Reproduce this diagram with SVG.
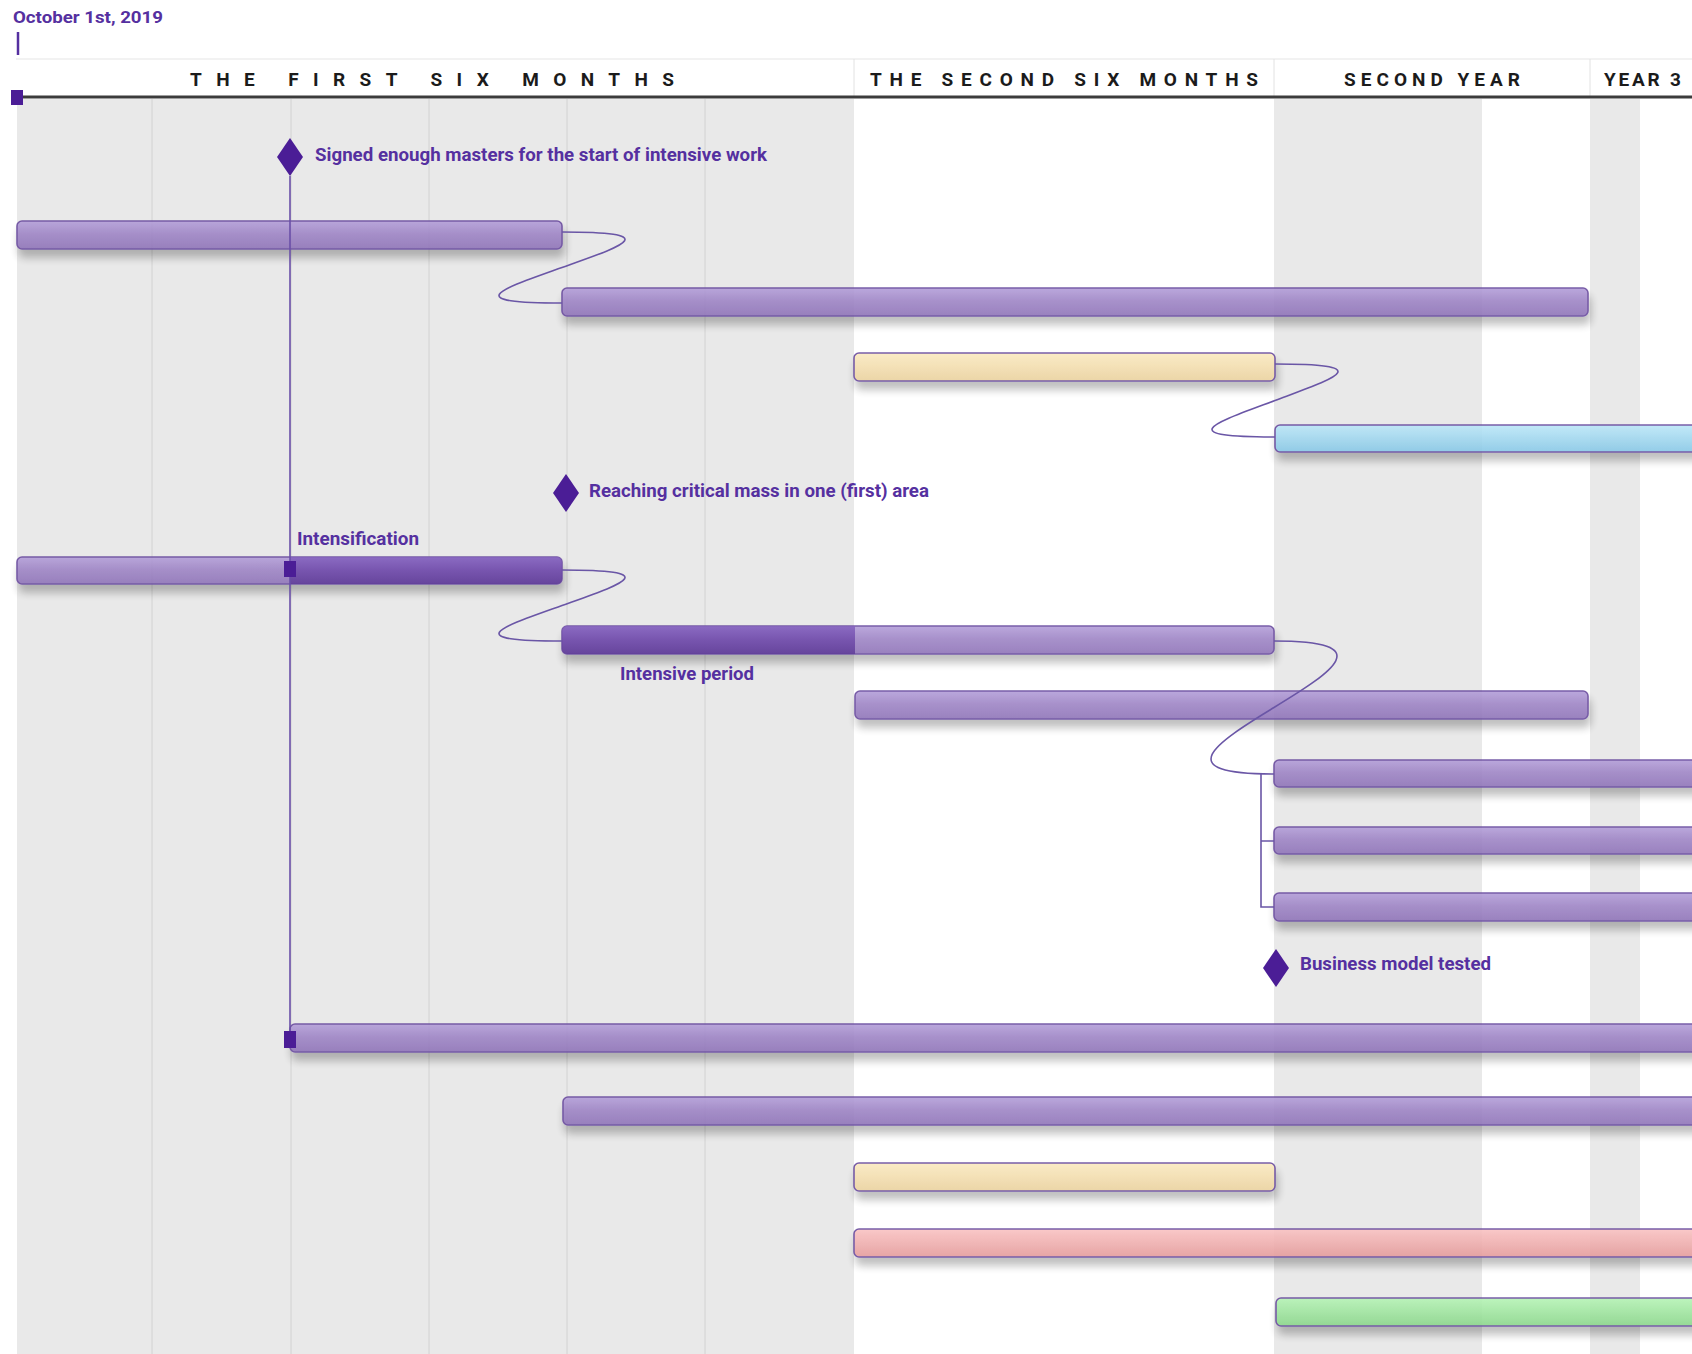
<svg xmlns="http://www.w3.org/2000/svg" width="1692" height="1354" viewBox="0 0 1692 1354">
<style>
.hdr{font-family:Roboto,"Liberation Sans",sans-serif;font-weight:700;font-size:19px;fill:#1b1b1b}
.lbl{font-family:Roboto,"Liberation Sans",sans-serif;font-weight:700;font-size:19px;fill:#5530a0}
.bar{stroke:#6a4c9e;stroke-width:1.6;opacity:0.9}
.grid{stroke:#d2d2d2;stroke-width:1}
.conn{fill:none;stroke:#6a56a6;stroke-width:1.6}
.ms{fill:#4b1d96}
</style>
<defs>
<linearGradient id="gP" x1="0" y1="0" x2="0" y2="1"><stop offset="0" stop-color="#b49fd9"/><stop offset="0.45" stop-color="#9f86c6"/><stop offset="1" stop-color="#8f74b8"/></linearGradient>
<linearGradient id="gD" x1="0" y1="0" x2="0" y2="1"><stop offset="0" stop-color="#8563bf"/><stop offset="0.5" stop-color="#714dab"/><stop offset="1" stop-color="#603d98"/></linearGradient>
<linearGradient id="gY" x1="0" y1="0" x2="0" y2="1"><stop offset="0" stop-color="#fbeac0"/><stop offset="1" stop-color="#ead19e"/></linearGradient>
<linearGradient id="gB" x1="0" y1="0" x2="0" y2="1"><stop offset="0" stop-color="#bce7f8"/><stop offset="1" stop-color="#88c8e6"/></linearGradient>
<linearGradient id="gR" x1="0" y1="0" x2="0" y2="1"><stop offset="0" stop-color="#fac3c3"/><stop offset="1" stop-color="#e49b9b"/></linearGradient>
<linearGradient id="gG" x1="0" y1="0" x2="0" y2="1"><stop offset="0" stop-color="#b6f4b6"/><stop offset="1" stop-color="#8bd68b"/></linearGradient>
<filter id="sh" x="-5%" y="-50%" width="110%" height="260%"><feDropShadow dx="2" dy="8" stdDeviation="4.5" flood-color="#000" flood-opacity="0.28"/></filter>
</defs>
<rect x="0" y="0" width="1692" height="1354" fill="#ffffff"/>
<g id="background">
<rect x="17" y="99" width="837" height="1255" fill="#e9e9e9"/>
<rect x="1274" y="99" width="208" height="1255" fill="#e9e9e9"/>
<rect x="1590" y="99" width="50" height="1255" fill="#e9e9e9"/>
<line class="grid" x1="152" y1="99" x2="152" y2="1354"/>
<line class="grid" x1="291" y1="99" x2="291" y2="1354"/>
<line class="grid" x1="429" y1="99" x2="429" y2="1354"/>
<line class="grid" x1="567" y1="99" x2="567" y2="1354"/>
<line class="grid" x1="705" y1="99" x2="705" y2="1354"/>
</g>
<g id="header">
<line x1="16" y1="59" x2="1692" y2="59" stroke="#e6e6e6" stroke-width="1.2"/>
<line x1="854" y1="59" x2="854" y2="97" stroke="#e2e2e2" stroke-width="1"/>
<line x1="1274" y1="59" x2="1274" y2="97" stroke="#e2e2e2" stroke-width="1"/>
<line x1="1590" y1="59" x2="1590" y2="97" stroke="#e2e2e2" stroke-width="1"/>
<text class="hdr" x="190" y="86" textLength="484" lengthAdjust="spacing">THE FIRST SIX MONTHS</text>
<text class="hdr" x="870" y="86" textLength="388" lengthAdjust="spacing">THE SECOND SIX MONTHS</text>
<text class="hdr" x="1344" y="86" textLength="176" lengthAdjust="spacing">SECOND YEAR</text>
<text class="hdr" x="1604" y="86" textLength="77" lengthAdjust="spacing">YEAR 3</text>
<line x1="16" y1="97" x2="1692" y2="97" stroke="#3c3c3c" stroke-width="3"/>
<rect class="ms" x="11" y="90" width="12" height="15"/>
<text class="lbl" x="13" y="23" textLength="150" lengthAdjust="spacingAndGlyphs" style="font-size:16.5px">October 1st, 2019</text>
<line x1="18" y1="32" x2="18" y2="55" stroke="#5530a0" stroke-width="2.5"/>
</g>
<g id="bars">
<g id="bar1"><rect class="bar" filter="url(#sh)" x="17" y="221" width="545" height="28" rx="5" fill="url(#gP)"/></g>
<g id="bar2"><rect class="bar" filter="url(#sh)" x="562" y="288" width="1026" height="28" rx="5" fill="url(#gP)"/></g>
<g id="bar3"><rect class="bar" filter="url(#sh)" x="854" y="353" width="421" height="28" rx="5" fill="url(#gY)"/></g>
<g id="bar4"><rect class="bar" filter="url(#sh)" x="1275" y="425" width="440" height="27" rx="5" fill="url(#gB)"/></g>
<g id="bar5"><rect class="bar" filter="url(#sh)" x="17" y="557" width="545" height="27" rx="5" fill="url(#gP)"/>
<path d="M290,557 H557 a5,5 0 0 1 5,5 V579 a5,5 0 0 1 -5,5 H290 Z" fill="url(#gD)" opacity="0.88"/></g>
<g id="bar6"><rect class="bar" filter="url(#sh)" x="562" y="626" width="712" height="28" rx="5" fill="url(#gP)"/>
<path d="M855,626 H567 a5,5 0 0 0 -5,5 V649 a5,5 0 0 0 5,5 H855 Z" fill="url(#gD)" opacity="0.88"/></g>
<g id="bar7"><rect class="bar" filter="url(#sh)" x="855" y="691" width="733" height="28" rx="5" fill="url(#gP)"/></g>
<g id="bar8"><rect class="bar" filter="url(#sh)" x="1274" y="760" width="440" height="27" rx="5" fill="url(#gP)"/></g>
<g id="bar9"><rect class="bar" filter="url(#sh)" x="1274" y="827" width="440" height="27" rx="5" fill="url(#gP)"/></g>
<g id="bar10"><rect class="bar" filter="url(#sh)" x="1274" y="893" width="440" height="28" rx="5" fill="url(#gP)"/></g>
<g id="bar11"><rect class="bar" filter="url(#sh)" x="290" y="1024" width="1420" height="28" rx="5" fill="url(#gP)"/></g>
<g id="bar12"><rect class="bar" filter="url(#sh)" x="563" y="1097" width="1150" height="28" rx="5" fill="url(#gP)"/></g>
<g id="bar13"><rect class="bar" filter="url(#sh)" x="854" y="1163" width="421" height="28" rx="5" fill="url(#gY)"/></g>
<g id="bar14"><rect class="bar" filter="url(#sh)" x="854" y="1229" width="860" height="28" rx="5" fill="url(#gR)"/></g>
<g id="bar15"><rect class="bar" filter="url(#sh)" x="1276" y="1298" width="440" height="28" rx="5" fill="url(#gG)"/></g>
</g>
<g id="connectors">
<line x1="290" y1="176" x2="290" y2="1031" stroke="#6a4fa8" stroke-width="1.6"/>
<path class="conn" d="M562,232 C667,232 622,246 562,267.5 S457,303 562,303"/>
<path class="conn" d="M1275,364 C1380,364 1335,378 1275,400.5 S1170,437 1275,437"/>
<path class="conn" d="M562,570 C667,570 622,584 562,605.5 S457,641 562,641"/>
<path class="conn" d="M1274,641 C1379,641 1334,671 1274,707.5 S1169,774 1274,774"/>
<path class="conn" d="M1261,774 V907 H1274 M1261,841 H1274"/>
</g>
<g id="milestone1">
<polygon class="ms" points="290,138 303,157 290,176 277,157"/>
<text class="lbl" x="315" y="161" textLength="452" lengthAdjust="spacingAndGlyphs">Signed enough masters for the start of intensive work</text>
</g>
<g id="milestone2">
<polygon class="ms" points="566,474 579,493 566,512 553,493"/>
<text class="lbl" x="589" y="497" textLength="340" lengthAdjust="spacingAndGlyphs">Reaching critical mass in one (first) area</text>
</g>
<g id="milestone3">
<polygon class="ms" points="1276,949 1289,968 1276,987 1263,968"/>
<text class="lbl" x="1300" y="970" textLength="191" lengthAdjust="spacingAndGlyphs">Business model tested</text>
</g>
<g id="intensification">
<rect class="ms" x="284" y="561" width="12" height="16"/>
<text class="lbl" x="297" y="545" textLength="122" lengthAdjust="spacingAndGlyphs">Intensification</text>
</g>
<g id="intensive-period">
<text class="lbl" x="620" y="680" textLength="134" lengthAdjust="spacingAndGlyphs">Intensive period</text>
</g>
<g id="start-marker">
<rect class="ms" x="284" y="1031" width="12" height="17"/>
</g>
</svg>
